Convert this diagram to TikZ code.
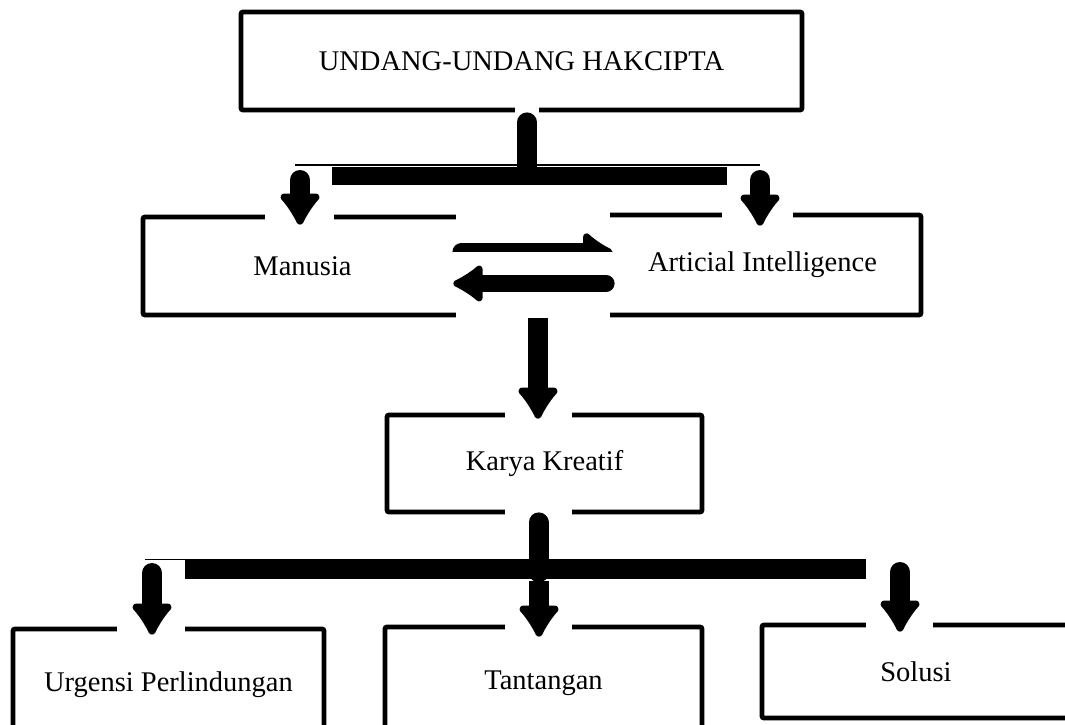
\documentclass[tikz,border=0pt]{standalone}
\usepackage{fontspec}
\setmainfont{Liberation Serif}
\usetikzlibrary{positioning, calc}
\usetikzlibrary{arrows.meta}
\tikzstyle{textbox}=[rectangle,line width=2.4pt,draw=black,inner sep=0pt,
rounded corners=1pt,font=\fontsize{14.25}{17}\selectfont]
\tikzstyle{gapbox}=[fill=white]
\tikzstyle{barbox}=[fill=black]
\tikzstyle{downpath}=[line width=10pt,-{Latex[length=18pt,width=25pt,round]}]
\tikzstyle{stempath}=[line width=10pt,line cap=round]

\begin{document}
\begin{tikzpicture}[x=0.5pt,y=-0.5pt]
    \useasboundingbox (0,0) rectangle (1065,724);
    \clip (0,0) rectangle (1065,724);

    \node[textbox, minimum width=280.5pt, minimum height=49pt] (uu) at (521.5,61) {UNDANG-UNDANG HAKCIPTA};
    \node[textbox, minimum width=159.5pt, minimum height=49pt] (man) at (302.5,266) {Manusia};
    \node[textbox, minimum width=158.5pt, minimum height=50pt] (ai) at (762.5,265) {Articial Intelligence};
    \node[textbox, minimum width=157.5pt, minimum height=48.5pt] (karya) at (544.5,463.5) {Karya Kreatif};
    \node[textbox, minimum width=155.5pt, minimum height=55.5pt] (urg) at (168.5,684.5) {Urgensi Perlindungan};
    \node[textbox, minimum width=158.5pt, minimum height=56.5pt] (tan) at (543.5,683.5) {Tantangan};
    \node[textbox, minimum width=154pt, minimum height=46.5pt] (sol) at (916,671.5) {Solusi};

    % white gaps where the arrows cross the box edges
    \fill[gapbox] ($(uu.south)+(-6.5,-6)$) rectangle ++(24,12);
    \fill[gapbox] ($(man.north)+(-37.5,-8)$) rectangle ++(69,16);
    \fill[gapbox] ($(ai.north)+(-40.5,-8)$) rectangle ++(71,16);
    \fill[gapbox] ($(man.north east)+(-8,-12)$) rectangle ($(ai.south west)+(8,12)$);
    \fill[gapbox] ($(karya.north)+(-39.5,-8)$) rectangle ++(67,16);
    \fill[gapbox] ($(karya.south)+(-39.5,-8)$) rectangle ++(67,16);
    \fill[gapbox] ($(urg.north)+(-51.5,-8)$) rectangle ++(68,16);
    \fill[gapbox] ($(tan.north)+(-38.5,-8)$) rectangle ++(67,16);
    \fill[gapbox] ($(sol.north)+(-50,-8)$) rectangle ++(67,16);

    % upper branch
    \draw[stempath] ($(uu.south)+(5.5,10)$) -- ++(0,50);
    \draw[line width=0.8pt] (295,165) -- (760,165);
    \fill[barbox] (332,167) rectangle (727,185);
    \coordinate (topL) at (300,180);
    \coordinate (topR) at (760,180);
    \draw[downpath, line cap=round] (topL) -- ($(topL |- man.north)+(0,10)$);
    \draw[downpath, line cap=round] (topR) -- ($(topR |- ai.north)+(0,13)$);

    % two-way arrows
    \draw[line width=9pt, line cap=round, -{Latex[length=17pt,width=24pt,round]}]
        ($(man.east)+(-3,-14)$) -- ($(ai.west)+(11,-13)$);
    \fill[gapbox] (445,252) rectangle (622,278);
    \draw[line width=8.5pt, line cap=round, -{Latex[length=17pt,width=23pt,round]}]
        ($(ai.west)+(4.5,18.5)$) -- ($(man.east)+(-11,17.5)$);

    % to Karya Kreatif
    \coordinate (midtop) at (538,318);
    \draw[downpath] (midtop) -- ($(midtop |- karya.north)+(0,6)$);

    % lower branch
    \draw[stempath] ($(karya.south)+(-6,8)$) -- ++(0,50);
    \draw[line width=0.8pt] (145,559.5) -- (866,559.5);
    \fill[barbox] (185,559) rectangle (866,579);
    \coordinate (botL) at (152,573);
    \coordinate (botM) at (539,581);
    \coordinate (botR) at (900,572);
    \draw[downpath, line cap=round] (botL) -- ($(botL |- urg.north)+(0,8)$);
    \draw[downpath] (botM) -- ($(botM |- tan.north)+(0,12)$);
    \draw[downpath, line cap=round] (botR) -- ($(botR |- sol.north)+(0,9)$);
\end{tikzpicture}
\end{document}
